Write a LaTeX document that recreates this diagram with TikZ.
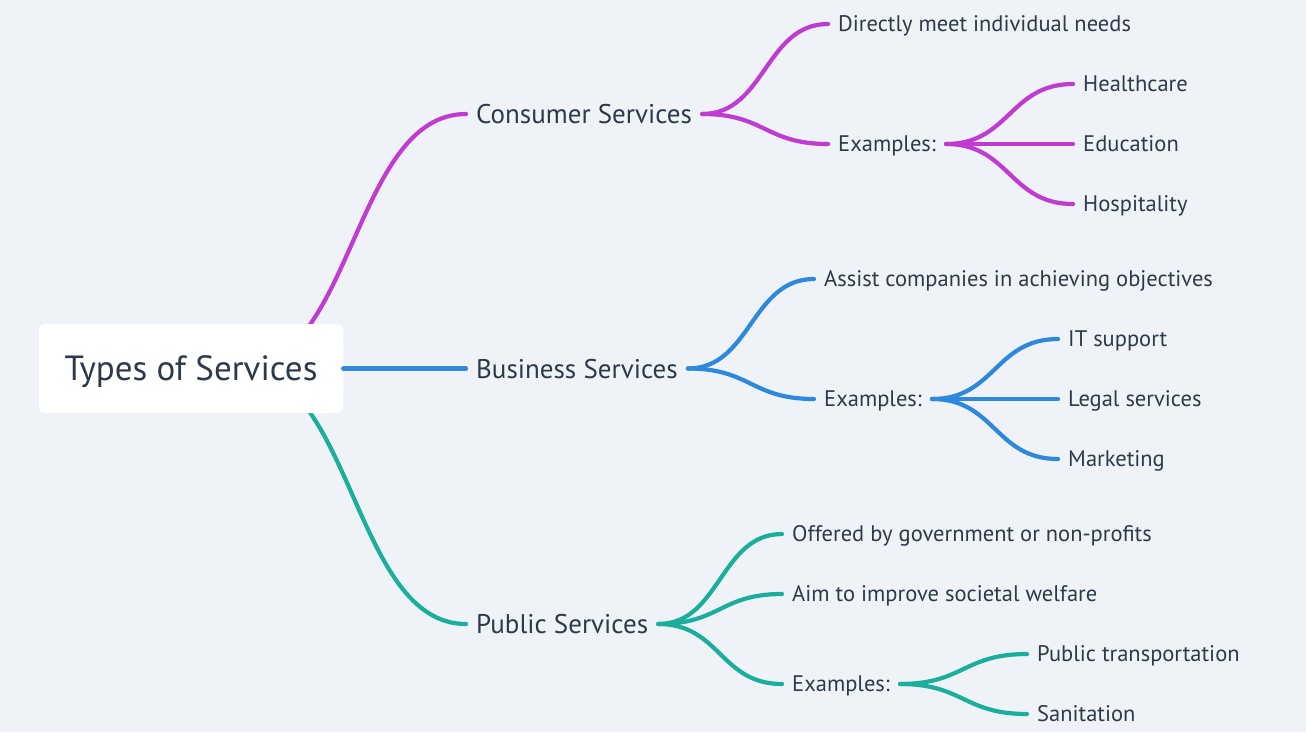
\documentclass[tikz,border=0pt]{standalone}
\usepackage{fontspec}
\setmainfont{PT Sans}
\usetikzlibrary{calc}
\definecolor{bg}{HTML}{EFF3F7}
\definecolor{ink}{HTML}{2D3A4A}
\definecolor{cpur}{HTML}{BF3BD2}
\definecolor{cblu}{HTML}{2E88DD}
\definecolor{ctea}{HTML}{1BAE9C}
\tikzset{
  link/.style={line width=4.2pt,line cap=round},
  lone/.style={anchor=west,inner xsep=10pt,inner ysep=0pt,text=ink,font=\fontsize{27}{30}\selectfont,text height=19pt,text depth=0pt},
  ltwo/.style={anchor=west,inner xsep=10pt,inner ysep=0pt,text=ink,font=\fontsize{22.5}{26}\selectfont,text height=15.8pt,text depth=0pt},
  rootbox/.style={fill=white,rounded corners=6pt,inner sep=0pt,minimum width=304pt,minimum height=89pt,text=ink,font=\fontsize{35}{40}\selectfont,text height=24.5pt,text depth=0pt}
}
\newcommand\branch[3]{\draw[link,#1] let \p1=(#2),\p2=(#3) in (\p1) .. controls ({0.5*\x1+0.5*\x2},\y1) and ({0.5*\x1+0.5*\x2},\y2) .. (\p2);}
\begin{document}
\begin{tikzpicture}[x=1pt,y=-1pt]
\fill[bg] (0,0) rectangle (1306,732);
\useasboundingbox (0,0) rectangle (1306,732);
% level 1
\node[lone] (cons) at (466,114) {Consumer Services};
\node[lone] (bus) at (466,368.5) {Business Services};
\node[lone] (pub) at (466,624) {Public Services};
\coordinate (rs) at (240,368.5);
\branch{cpur}{rs}{cons.west}
\branch{ctea}{rs}{pub.west}
\node[rootbox] (root) at (191,368.5) {Types of Services};
\draw[link,cblu] (root.east) -- (bus.west);
% consumer
\node[ltwo] (c1) at (828,24) {Directly meet individual needs};
\node[ltwo] (c2) at (828,144) {Examples:};
\node[ltwo] (c21) at (1073,84) {Healthcare};
\node[ltwo] (c22) at (1073,144) {Education};
\node[ltwo] (c23) at (1073,204) {Hospitality};
\branch{cpur}{cons.east}{c1.west}
\branch{cpur}{cons.east}{c2.west}
\branch{cpur}{c2.east}{c21.west}
\branch{cpur}{c2.east}{c22.west}
\branch{cpur}{c2.east}{c23.west}
% business
\node[ltwo] (b1) at (814,279) {Assist companies in achieving objectives};
\node[ltwo] (b2) at (814,399) {Examples:};
\node[ltwo] (b21) at (1058,339) {IT support};
\node[ltwo] (b22) at (1058,399) {Legal services};
\node[ltwo] (b23) at (1058,459) {Marketing};
\branch{cblu}{bus.east}{b1.west}
\branch{cblu}{bus.east}{b2.west}
\branch{cblu}{b2.east}{b21.west}
\branch{cblu}{b2.east}{b22.west}
\branch{cblu}{b2.east}{b23.west}
% public
\node[ltwo] (p1) at (782,534) {Offered by government or non-profits};
\node[ltwo] (p2) at (782,594) {Aim to improve societal welfare};
\node[ltwo] (p3) at (782,684) {Examples:};
\node[ltwo] (p31) at (1027,654) {Public transportation};
\node[ltwo] (p32) at (1027,714) {Sanitation};
\branch{ctea}{pub.east}{p1.west}
\branch{ctea}{pub.east}{p2.west}
\branch{ctea}{pub.east}{p3.west}
\branch{ctea}{p3.east}{p31.west}
\branch{ctea}{p3.east}{p32.west}
\end{tikzpicture}
\end{document}
